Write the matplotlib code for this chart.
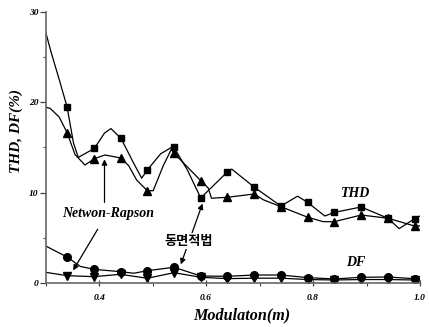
import matplotlib
matplotlib.use("Agg")
import matplotlib.pyplot as plt
from matplotlib.ticker import MultipleLocator, FixedLocator

# ---- data ----
marker_m = [0.34, 0.39, 0.44, 0.49, 0.54, 0.59, 0.64, 0.69, 0.74, 0.79, 0.84, 0.89, 0.94, 0.99]

thd_sq = [19.5, 14.9, 16.0, 12.5, 15.0, 9.4, 12.3, 10.6, 8.5, 8.9, 7.8, 8.4, 7.15, 7.1]
thd_sq_line_m = [0.30, 0.31, 0.325, 0.34, 0.352, 0.361, 0.391, 0.41, 0.422, 0.441, 0.465, 0.4795, 0.49,
                 0.515, 0.535, 0.54, 0.565, 0.59, 0.64, 0.648, 0.69, 0.74, 0.771, 0.79, 0.822,
                 0.84, 0.89, 0.94, 0.961, 0.99, 1.0]
thd_sq_line = [27.8, 25.6, 22.6, 19.5, 15.5, 13.9, 14.9, 16.6, 17.1, 16.0, 13.2, 11.6, 12.5,
               14.3, 15.0, 15.0, 12.5, 9.4, 12.3, 12.6, 10.6, 8.5, 9.6, 8.9, 7.4,
               7.8, 8.4, 7.15, 6.0, 7.1, 7.4]

thd_tri = [16.65, 13.76, 13.84, 10.21, 14.36, 11.32, 9.48, 9.84, 8.43, 7.26, 6.77, 7.51, 7.15, 6.29]
thd_tri_line_m = [0.30, 0.308, 0.325, 0.34, 0.355, 0.3735, 0.391, 0.411, 0.44, 0.455, 0.47,
                  0.49, 0.501, 0.52, 0.535, 0.54, 0.59, 0.604, 0.61, 0.64, 0.69, 0.707,
                  0.74, 0.79, 0.819, 0.84, 0.89, 0.94, 0.99, 1.0]
thd_tri_line = [19.47, 19.35, 18.4, 16.65, 14.2, 13.06, 13.76, 14.17, 13.84, 13.0, 11.4,
                10.21, 10.2, 13.0, 14.8, 14.36, 11.32, 10.5, 9.37, 9.48, 9.84, 9.2,
                8.43, 7.26, 6.77, 6.77, 7.51, 7.15, 6.29, 6.3]

df_circ = [2.85, 1.48, 1.22, 1.33, 1.71, 0.74, 0.71, 0.85, 0.85, 0.56, 0.41, 0.60, 0.63, 0.44]
df_circ_line_m = [0.30, 0.34, 0.365, 0.391, 0.44, 0.465, 0.49, 0.54, 0.59, 0.64, 0.69, 0.74,
                  0.79, 0.84, 0.89, 0.94, 0.99, 1.0]
df_circ_line = [4.07, 2.85, 1.8, 1.48, 1.22, 1.05, 1.33, 1.71, 0.74, 0.71, 0.85, 0.85,
                0.56, 0.41, 0.60, 0.63, 0.44, 0.45]

df_tri = [0.78, 0.67, 0.93, 0.49, 1.11, 0.60, 0.45, 0.50, 0.50, 0.35, 0.30, 0.35, 0.35, 0.30]
df_tri_line_m = [0.30, 0.34, 0.39, 0.44, 0.49, 0.54, 0.59, 0.64, 0.69, 0.74, 0.79, 0.84,
                 0.89, 0.94, 0.99, 1.0]
df_tri_line = [1.15, 0.78, 0.67, 0.93, 0.49, 1.11, 0.60, 0.45, 0.50, 0.50, 0.35, 0.30,
               0.35, 0.35, 0.30, 0.30]

x_major = [0.4, 0.6, 0.8, 1.0]
x_labels = ["0.4", "0.6", "0.8", "1.0"]
y_major = [0, 10, 20, 30]
y_labels = ["0", "10", "20", "30"]

serif = "Liberation Serif"

fig = plt.figure(figsize=(4.29, 3.27), dpi=100)
ax = fig.add_axes([0.1065, 0.1355, 0.8725, 0.8269])

lw = 0.9
ax.plot(thd_sq_line_m, thd_sq_line, color="black", lw=lw)
ax.plot(marker_m, thd_sq, ls="none", marker="s", ms=5, color="black")
ax.plot(thd_tri_line_m, thd_tri_line, color="black", lw=lw)
ax.plot(marker_m, thd_tri, ls="none", marker="^", ms=6, color="black")
ax.plot(df_circ_line_m, df_circ_line, color="black", lw=lw)
ax.plot(marker_m, df_circ, ls="none", marker="o", ms=5.5, color="black")
ax.plot(df_tri_line_m, df_tri_line, color="black", lw=lw)
ax.plot(marker_m, df_tri, ls="none", marker="v", ms=6, color="black")

ax.set_xlim(0.3, 1.0)
ax.set_ylim(0, 30)

for s in ["top", "right"]:
    ax.spines[s].set_visible(False)
for s in ["left", "bottom"]:
    ax.spines[s].set_color("#666666")
    ax.spines[s].set_linewidth(1.2)

ax.xaxis.set_major_locator(FixedLocator(x_major))
ax.set_xticklabels(x_labels)
ax.xaxis.set_minor_locator(MultipleLocator(0.1))
ax.yaxis.set_major_locator(FixedLocator(y_major))
ax.set_yticklabels(y_labels)
ax.yaxis.set_minor_locator(MultipleLocator(5))

ax.tick_params(axis="y", which="major", direction="out", length=4, width=0.9, color="#444444", pad=1)
ax.tick_params(axis="y", which="minor", direction="out", length=2.5, width=0.8, color="#444444")
ax.tick_params(axis="x", which="major", direction="inout", length=5, width=0.9, color="#444444", pad=6)
ax.tick_params(axis="x", which="minor", direction="out", length=2.5, width=0.8, color="#444444")

for lab in ax.get_xticklabels() + ax.get_yticklabels():
    lab.set_fontfamily(serif)
    lab.set_fontweight("bold")
    lab.set_fontstyle("italic")
    lab.set_fontsize(6.8)

ax.set_xlabel("Modulaton(m)", fontfamily=serif, fontweight="bold", fontstyle="italic",
              fontsize=11.6)
ax.xaxis.set_label_coords(0.523, -0.09)
ax.set_ylabel("THD, DF(%)", fontfamily=serif, fontweight="bold", fontstyle="italic",
              fontsize=11)
ax.yaxis.set_label_coords(-0.061, 0.56)

tfont = dict(fontfamily=serif, fontweight="bold", fontstyle="italic")
ax.text(0.88, 9.9, "THD", fontsize=10, ha="center", va="center", **tfont)
ax.text(0.88, 2.25, "DF", fontsize=10, ha="center", va="center", **tfont)
ax.text(0.417, 7.7, "Netwon-Rapson", fontsize=10, ha="center", va="center", **tfont)

arrow = dict(arrowstyle="-|>", color="black", lw=0.9, mutation_scale=8)
ax.annotate("", xy=(0.41, 14.0), xytext=(0.41, 8.6), arrowprops=arrow)
ax.annotate("", xy=(0.3486, 1.1), xytext=(0.40, 6.2), arrowprops=arrow)
ax.annotate("", xy=(0.551, 1.74), xytext=(0.595, 9.07),
            arrowprops=dict(arrowstyle="<|-|>", color="black", lw=0.9, mutation_scale=8))
ax.text(0.568, 4.63, "동면적법", fontsize=9.5, ha="center", va="center",
        family=["Noto Sans CJK KR", "DejaVu Sans"], fontweight="bold", fontstyle="italic",
        bbox=dict(facecolor="white", edgecolor="none", pad=0.5))

fig.savefig("out.png", dpi=100)
